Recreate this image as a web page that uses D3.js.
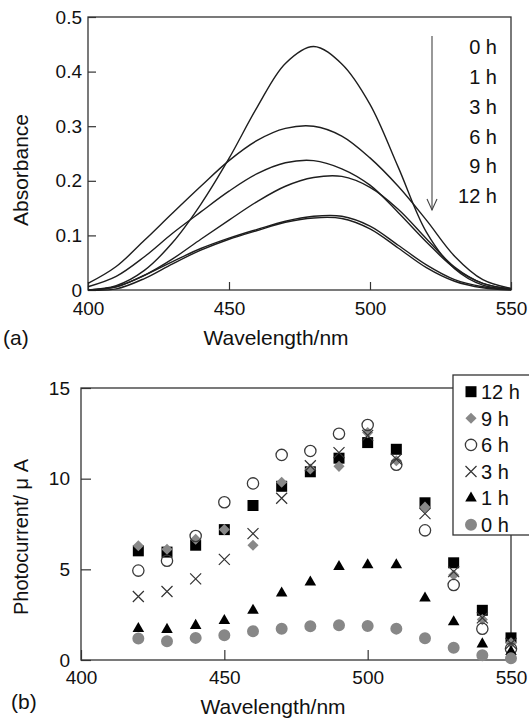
<!DOCTYPE html>
<html>
<head>
<meta charset="utf-8">
<script src="https://cdn.jsdelivr.net/npm/d3@7"></script>
<style>
body { margin: 0; background: #fff; }
svg text { font-family: "Liberation Sans", Arial, Helvetica, sans-serif; fill: #111; }
</style>
</head>
<body>
<svg id="chart" width="529" height="723"></svg>
<script>
// ---- (a) absorbance spectra ----
var wlA = [400, 410, 420, 430, 440, 450, 460, 470, 480, 490, 500, 510, 520, 530, 540, 550];
var abs0h  = [0.000, 0.008, 0.036, 0.087, 0.157, 0.241, 0.335, 0.415, 0.446, 0.414, 0.340, 0.225, 0.106, 0.039, 0.009, 0.002];
var abs1h  = [0.012, 0.043, 0.091, 0.141, 0.190, 0.237, 0.274, 0.296, 0.300, 0.282, 0.242, 0.190, 0.128, 0.062, 0.019, 0.003];
var abs3h  = [0.006, 0.025, 0.061, 0.104, 0.143, 0.181, 0.213, 0.233, 0.237, 0.222, 0.192, 0.142, 0.088, 0.040, 0.012, 0.002];
var abs6h  = [0.000, 0.006, 0.027, 0.057, 0.093, 0.128, 0.162, 0.190, 0.206, 0.208, 0.188, 0.148, 0.094, 0.042, 0.012, 0.002];
var abs9h  = [0.000, 0.006, 0.027, 0.052, 0.076, 0.095, 0.111, 0.126, 0.135, 0.135, 0.117, 0.082, 0.046, 0.019, 0.006, 0.001];
var abs12h = [0.000, 0.002, 0.021, 0.048, 0.073, 0.093, 0.109, 0.124, 0.132, 0.131, 0.112, 0.077, 0.041, 0.016, 0.004, 0.000];
var hoursA = ["0 h", "1 h", "3 h", "6 h", "9 h", "12 h"];
var tickAbs = [0, 0.1, 0.2, 0.3, 0.4, 0.5];

// ---- (b) photocurrent ----
var wlB = [420, 430, 440, 450, 460, 470, 480, 490, 500, 510, 520, 530, 540, 550];
var pc12h = [6.02, 5.95, 6.33, 7.19, 8.52, 9.58, 10.38, 11.13, 11.99, 11.62, 8.67, 5.36, 2.74, 1.22];
var pc9h  = [6.30, 6.11, 6.66, 7.19, 6.33, 9.80, 10.53, 10.68, 12.54, 10.99, 8.43, 4.69, 2.23, 0.95];
var pc6h  = [4.93, 5.47, 6.84, 8.70, 9.74, 11.31, 11.53, 12.48, 12.96, 10.77, 7.15, 4.14, 1.72, 0.62];
var pc3h  = [3.50, 3.78, 4.47, 5.55, 6.97, 8.92, 10.71, 11.44, 12.39, 11.08, 8.07, 4.87, 2.32, 0.91];
var pc1h  = [1.73, 1.68, 1.90, 2.17, 2.74, 3.69, 4.29, 5.15, 5.24, 5.24, 3.41, 2.10, 0.88, 0.46];
var pc0h  = [1.19, 1.04, 1.22, 1.37, 1.59, 1.72, 1.86, 1.92, 1.88, 1.73, 1.20, 0.68, 0.26, 0.09];
var hoursB = ["12 h", "9 h", "6 h", "3 h", "1 h", "0 h"];
var tickPc = [0, 5, 10, 15];

var tickWl = [400, 450, 500, 550];

var svg = d3.select("#chart");
var axisCol = "#333";

function styleAxis(g) {
  g.select(".domain").remove();
  g.selectAll(".tick line").attr("stroke", axisCol).attr("stroke-width", 1.2);
  g.selectAll(".tick text").attr("fill", "#111").style("font-size", "19px")
    .style("font-family", "'Liberation Sans', Arial, sans-serif");
}

// ================= panel (a) =================
var xA = d3.scaleLinear().domain([400, 550]).range([88, 511]);
var yA = d3.scaleLinear().domain([0, 0.5]).range([290, 17]);

var gA = svg.append("g");

gA.append("g")
  .attr("transform", "translate(0," + yA(0) + ")")
  .call(d3.axisBottom(xA).tickValues(tickWl).tickSize(-8).tickPadding(12).tickFormat(d3.format("d")))
  .call(styleAxis);

gA.append("g")
  .attr("transform", "translate(" + xA(400) + ",0)")
  .call(d3.axisLeft(yA).tickValues(tickAbs).tickSize(-8).tickPadding(6).tickFormat(function (d) { return d === 0 ? "0" : d3.format(".1f")(d); }))
  .call(styleAxis);

gA.append("rect")
  .attr("x", xA(400)).attr("y", yA(0.5))
  .attr("width", xA(550) - xA(400)).attr("height", yA(0) - yA(0.5))
  .attr("fill", "none").attr("stroke", axisCol).attr("stroke-width", 1.3);

var seriesA = [abs0h, abs1h, abs3h, abs6h, abs9h, abs12h];
var lineA = d3.line()
  .x(function (d, i) { return xA(wlA[i]); })
  .y(function (d) { return yA(d); })
  .curve(d3.curveCatmullRom.alpha(0.5));

gA.selectAll("path.spec").data(seriesA).enter().append("path")
  .attr("class", "spec")
  .attr("d", lineA)
  .attr("fill", "none")
  .attr("stroke", "#1e1e1e")
  .attr("stroke-width", 1.4);

// arrow + labels
gA.append("line").attr("x1", 432).attr("x2", 432).attr("y1", 36).attr("y2", 210)
  .attr("stroke", "#444").attr("stroke-width", 1.1);
gA.append("path").attr("d", "M427,199L432,210L437,199")
  .attr("fill", "none").attr("stroke", "#444").attr("stroke-width", 1.1);

gA.selectAll("text.hr").data(hoursA).enter().append("text")
  .attr("class", "hr")
  .attr("x", 497)
  .attr("y", function (d, i) { return 47 + i * 29.8; })
  .attr("dy", "0.36em")
  .attr("text-anchor", "end")
  .style("font-size", "20px")
  .text(function (d) { return d; });

gA.append("text").attr("x", 276).attr("y", 345).attr("text-anchor", "middle")
  .style("font-size", "21px").text("Wavelength/nm");
gA.append("text").attr("x", 3).attr("y", 345)
  .style("font-size", "21px").text("(a)");
gA.append("text")
  .attr("transform", "translate(28,170) rotate(-90)")
  .attr("text-anchor", "middle")
  .style("font-size", "21px").text("Absorbance");

// ================= panel (b) =================
var xB = d3.scaleLinear().domain([400, 550]).range([81, 511]);
var yB = d3.scaleLinear().domain([0, 15]).range([660, 388]);

var gB = svg.append("g");

gB.append("g")
  .attr("transform", "translate(0," + yB(0) + ")")
  .call(d3.axisBottom(xB).tickValues(tickWl).tickSize(-10).tickPadding(11).tickFormat(d3.format("d")))
  .call(styleAxis);

gB.append("g")
  .attr("transform", "translate(" + xB(400) + ",0)")
  .call(d3.axisLeft(yB).tickValues(tickPc).tickSize(-10).tickPadding(11).tickFormat(d3.format("d")))
  .call(styleAxis);

gB.append("rect")
  .attr("x", xB(400)).attr("y", yB(15))
  .attr("width", xB(550) - xB(400)).attr("height", yB(0) - yB(15))
  .attr("fill", "none").attr("stroke", axisCol).attr("stroke-width", 1.3);

var kinds = ["sq", "dia", "oc", "x", "tri", "gc"];
var seriesB = [pc12h, pc9h, pc6h, pc3h, pc1h, pc0h];

function drawMarker(sel, kind) {
  if (kind === "sq") {
    sel.append("path").attr("d", d3.symbol(d3.symbolSquare, 121)()).attr("fill", "#000");
  } else if (kind === "dia") {
    sel.append("path").attr("d", d3.symbol(d3.symbolSquare, 62)()).attr("transform", "rotate(45)").attr("fill", "#888");
  } else if (kind === "oc") {
    sel.append("path").attr("d", d3.symbol(d3.symbolCircle, 100)()).attr("fill", "none").attr("stroke", "#3a3a3a").attr("stroke-width", 1.3);
  } else if (kind === "x") {
    sel.append("path").attr("d", "M-5.5,-5.5L5.5,5.5M-5.5,5.5L5.5,-5.5").attr("fill", "none").attr("stroke", "#333").attr("stroke-width", 1.2);
  } else if (kind === "tri") {
    sel.append("path").attr("d", d3.symbol(d3.symbolTriangle, 58)()).attr("fill", "#000");
  } else {
    sel.append("path").attr("d", d3.symbol(d3.symbolCircle, 113)()).attr("fill", "#878787");
  }
}

seriesB.forEach(function (vals, si) {
  var g = gB.append("g");
  g.selectAll("g").data(vals).enter().append("g")
    .attr("transform", function (d, i) { return "translate(" + xB(wlB[i]) + "," + yB(d) + ")"; })
    .each(function () { drawMarker(d3.select(this), kinds[si]); });
});

// legend
var leg = gB.append("g");
leg.append("rect").attr("x", 453).attr("y", 375).attr("width", 90).attr("height", 160)
  .attr("fill", "#fff").attr("stroke", axisCol).attr("stroke-width", 1.3);
hoursB.forEach(function (lab, i) {
  var cy = 391.7 + i * 26.6;
  var m = leg.append("g").attr("transform", "translate(471," + cy + ")");
  drawMarker(m, kinds[i]);
  leg.append("text").attr("x", 481).attr("y", cy).attr("dy", "0.36em")
    .style("font-size", "20px").text(lab);
});

gB.append("text").attr("x", 273).attr("y", 714).attr("text-anchor", "middle")
  .style("font-size", "21px").text("Wavelength/nm");
gB.append("text").attr("x", 11).attr("y", 709)
  .style("font-size", "21px").text("(b)");
gB.append("text")
  .attr("transform", "translate(28,537) rotate(-90)")
  .attr("text-anchor", "middle")
  .style("font-size", "20px").text("Photocurrent/ μ A");
</script>
</body>
</html>
